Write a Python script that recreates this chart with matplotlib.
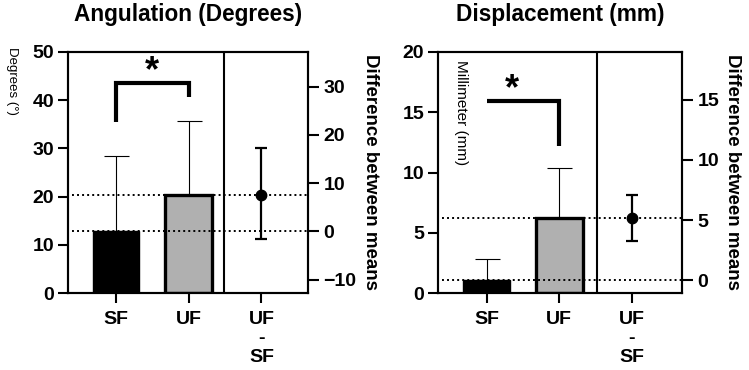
import matplotlib
matplotlib.use("Agg")
import matplotlib.pyplot as plt

plt.rcParams['font.family'] = ['Liberation Sans', 'DejaVu Sans']

# ---- data ----
categories = ["SF", "UF", "UF\n-\nSF"]

ang_means = [12.8, 20.4]
ang_upper_err = [15.6, 15.3]          # SD shown upward only
ang_diff = 7.6
ang_diff_ci = [-1.6, 17.3]
ang_ylim = (0, 50)
ang_yticks = [0, 10, 20, 30, 40, 50]
ang_diff_ticks = [-10, 0, 10, 20, 30]

dis_means = [1.05, 6.25]
dis_upper_err = [1.8, 4.1]
dis_diff = 5.2
dis_diff_ci = [3.27, 7.08]
dis_ylim = (0, 20)
dis_yticks = [0, 5, 10, 15, 20]
dis_diff_ticks = [0, 5, 10, 15]

W, H = 749, 370
fig = plt.figure(figsize=(W / 100, H / 100), dpi=100)

TICK_FS = 14
bar_colors = ["black", "#b0b0b0"]


def panel(rect, title, means, uerr, diff, ci, ylim, yticks, dticks,
          xlim, divider, bracket, star, ylab, ylab_pos, ylab_in_axes, ylab_fs):
    ax = fig.add_axes(rect)
    x = [0, 1]
    ax.bar(x, means, width=0.64, color=bar_colors, edgecolor="black",
           linewidth=[1.0, 2.4], zorder=2)
    ax.errorbar(x, means, yerr=[[0, 0], uerr], fmt="none", ecolor="black",
                elinewidth=0.8, capsize=9, capthick=0.8, zorder=1)
    ax.set_xlim(*xlim)
    ax.set_ylim(*ylim)
    ax.set_yticks(yticks)
    ax.set_xticks([0, 1, 2])
    ax.set_xticklabels(categories, fontweight="bold", fontsize=TICK_FS,
                       linespacing=1.15)
    for lbl in ax.get_yticklabels():
        lbl.set_fontweight("bold")
        lbl.set_fontsize(TICK_FS)
    ax.tick_params(axis="both", direction="out", length=7, width=1.5, pad=3)
    ax.tick_params(axis="x", pad=6)
    for s in ax.spines.values():
        s.set_linewidth(1.5)
    # dotted reference lines at means
    for m in means:
        ax.plot([xlim[0] + 0.06, xlim[1]], [m, m], color="black",
                linestyle=(0, (1, 1.6)), linewidth=1.4, zorder=3)
    ax.axvline(divider, color="black", linewidth=1.5)

    # significance bracket
    bx, by = bracket
    ax.plot(bx, by, color="black", linewidth=3.0, clip_on=False,
            solid_capstyle="butt", solid_joinstyle="miter")
    ax.text(star[0], star[1], "*", ha="center", va="center",
            fontsize=26, fontweight="bold")

    # right (difference) axis
    ax2 = ax.twinx()
    ax2.set_ylim(ylim[0] - means[0], ylim[1] - means[0])
    ax2.set_yticks(dticks)
    for lbl in ax2.get_yticklabels():
        lbl.set_fontweight("bold")
        lbl.set_fontsize(TICK_FS)
    ax2.tick_params(axis="y", direction="out", length=8, width=1.5, pad=3)
    for s in ax2.spines.values():
        s.set_linewidth(1.5)
    ax2.errorbar([2], [diff], yerr=[[diff - ci[0]], [ci[1] - diff]],
                 fmt="o", color="black", markersize=7.5, elinewidth=1.6,
                 capsize=4.5, capthick=1.6)
    ax2.set_ylabel("Difference between means", rotation=270,
                   fontweight="bold", fontsize=13.5, labelpad=16)

    fig.text(rect[0] + rect[2] / 2, 1 - 15 / H, title, ha="center",
             va="center", fontsize=16.3, fontweight="bold")
    if ylab_in_axes:
        ax.text(ylab_pos[0], ylab_pos[1], ylab, rotation=270, ha="center",
                va="center", fontsize=ylab_fs)
    else:
        fig.text(ylab_pos[0], ylab_pos[1], ylab, rotation=270, ha="center",
                 va="center", fontsize=ylab_fs)
    return ax


panel([68 / W, 1 - 293 / H, 240 / W, 241 / H], "Angulation (Degrees)",
      ang_means, ang_upper_err, ang_diff, ang_diff_ci, ang_ylim, ang_yticks,
      ang_diff_ticks, (-0.66, 2.64), 1.49,
      ([0, 0, 1, 1], [35.5, 43.6, 43.6, 40.6]), (0.49, 46.0),
      "Degrees (°)", (12 / W, 1 - 81 / H), False, 9.5)

panel([438 / W, 1 - 293 / H, 244 / W, 241 / H], "Displacement (mm)",
      dis_means, dis_upper_err, dis_diff, dis_diff_ci, dis_ylim, dis_yticks,
      dis_diff_ticks, (-0.67, 2.69), 1.52,
      ([0, 1, 1], [15.9, 15.9, 12.2]), (0.35, 16.9),
      "Millimeter (mm)", (-0.36, 15.0), True, 11)

fig.savefig("out.png", dpi=100)
